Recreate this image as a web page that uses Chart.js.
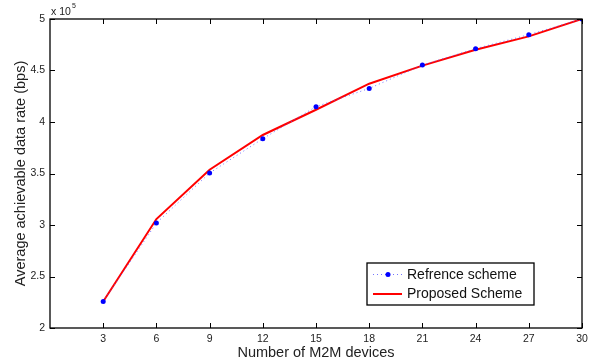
<!DOCTYPE html>
<html>
<head>
<meta charset="utf-8">
<script src="https://cdn.jsdelivr.net/npm/chart.js@4.4.1/dist/chart.umd.min.js"></script>
<style>
  html, body { margin: 0; padding: 0; background: #fff; }
  #wrap { width: 595px; height: 362px; }
</style>
</head>
<body>
<div id="wrap"><canvas id="rateChart" width="595" height="362"></canvas></div>
<script>
// number of M2M devices
const devices = [3, 6, 9, 12, 15, 18, 21, 24, 27, 30];
// average achievable data rate, bps
const referenceRate = [225800, 301900, 350500, 383800, 414900, 432600, 455300, 471200, 484800, 500000];
const proposedRate  = [225800, 305800, 353700, 387400, 411900, 437200, 454700, 470200, 483100, 500000];
const xTicks = [3, 6, 9, 12, 15, 18, 21, 24, 27, 30];
const yTicks = [2, 2.5, 3, 3.5, 4, 4.5, 5];

const font = '"Liberation Sans", Arial, Helvetica, sans-serif';

// matlab-ish box, inward ticks, exponent label and legend
const matlabBox = {
  id: "matlabBox",
  afterDraw(chart) {
    const { ctx, chartArea: a, scales: { x, y } } = chart;
    ctx.save();
    ctx.strokeStyle = "#000";
    ctx.lineWidth = 1.3;
    ctx.strokeRect(a.left, a.top, a.right - a.left, a.bottom - a.top);
    ctx.lineWidth = 1;
    ctx.beginPath();
    xTicks.forEach(v => {
      const px = Math.round(x.getPixelForValue(v)) + 0.5;
      ctx.moveTo(px, a.bottom); ctx.lineTo(px, a.bottom - 5);
      ctx.moveTo(px, a.top);    ctx.lineTo(px, a.top + 5);
    });
    yTicks.forEach(v => {
      const py = Math.round(y.getPixelForValue(v * 1e5)) + 0.5;
      ctx.moveTo(a.left, py);  ctx.lineTo(a.left + 5, py);
      ctx.moveTo(a.right, py); ctx.lineTo(a.right - 5, py);
    });
    ctx.stroke();

    // x 10^5
    ctx.fillStyle = "#222";
    ctx.font = "10.5px " + font;
    ctx.textBaseline = "middle";
    ctx.textAlign = "left";
    ctx.fillText("x 10", a.left + 1, a.top - 7);
    ctx.font = "7px " + font;
    ctx.fillText("5", a.left + 22, a.top - 13);

    // legend
    const lx = 367, ly = 263, lw = 167, lh = 42;
    ctx.fillStyle = "#fff";
    ctx.fillRect(lx, ly, lw, lh);
    ctx.lineWidth = 1.3;
    ctx.strokeStyle = "#000";
    ctx.strokeRect(lx, ly, lw, lh);
    ctx.font = "14px " + font;
    chart.data.datasets.forEach((ds, i) => {
      const cy = ly + 11.5 + i * 19.5;
      ctx.strokeStyle = ds.borderColor;
      ctx.lineWidth = ds.borderWidth;
      ctx.setLineDash(ds.borderDash || []);
      ctx.beginPath();
      ctx.moveTo(lx + 6, cy); ctx.lineTo(lx + 35, cy);
      ctx.stroke();
      ctx.setLineDash([]);
      if (ds.pointRadius > 0) {
        ctx.fillStyle = ds.pointBackgroundColor;
        ctx.beginPath();
        ctx.arc(lx + 21, cy, ds.pointRadius, 0, Math.PI * 2);
        ctx.fill();
      }
      ctx.fillStyle = "#111";
      ctx.fillText(ds.label, lx + 40, cy + 0.5);
    });
    ctx.restore();
  }
};

new Chart(document.getElementById("rateChart"), {
  type: "line",
  data: {
    labels: devices,
    datasets: [
      {
        label: "Refrence scheme",
        data: devices.map((d, i) => ({ x: d, y: referenceRate[i] })),
        borderColor: "rgba(80,80,255,0.8)",
        borderWidth: 1,
        borderDash: [1, 3],
        pointRadius: 2.5,
        pointBackgroundColor: "#0000ff",
        pointBorderWidth: 0,
        tension: 0
      },
      {
        label: "Proposed Scheme",
        data: devices.map((d, i) => ({ x: d, y: proposedRate[i] })),
        borderColor: "#ff0000",
        borderWidth: 2,
        pointRadius: 0,
        tension: 0
      }
    ]
  },
  options: {
    responsive: false,
    animation: false,
    layout: { padding: { top: 19, right: 13, left: 8 } },
    plugins: { legend: { display: false }, tooltip: { enabled: false } },
    scales: {
      x: {
        type: "linear",
        min: 0, max: 30,
        afterBuildTicks: s => { s.ticks = xTicks.map(v => ({ value: v })); },
        afterFit: s => { s.height = 34; },
        border: { display: false },
        grid: { display: false, drawTicks: false },
        ticks: { padding: 5, color: "#222", font: { family: font, size: 10.5 }, maxRotation: 0 },
        title: {
          display: true, text: "Number of M2M devices", color: "#222",
          font: { family: font, size: 14.5 }, padding: { top: 0, bottom: 0 }
        }
      },
      y: {
        min: 200000, max: 500000,
        afterBuildTicks: s => { s.ticks = yTicks.map(v => ({ value: v * 1e5 })); },
        afterFit: s => { s.width = 42; },
        border: { display: false },
        grid: { display: false, drawTicks: false },
        ticks: {
          padding: 5, color: "#222", font: { family: font, size: 10.5 },
          callback: v => String(v / 1e5)
        },
        title: {
          display: true, text: "Average achievable data rate (bps)", color: "#222",
          font: { family: font, size: 14.5 }, padding: { top: 4, bottom: 0 }
        }
      }
    }
  },
  plugins: [matlabBox]
});
</script>
</body>
</html>
